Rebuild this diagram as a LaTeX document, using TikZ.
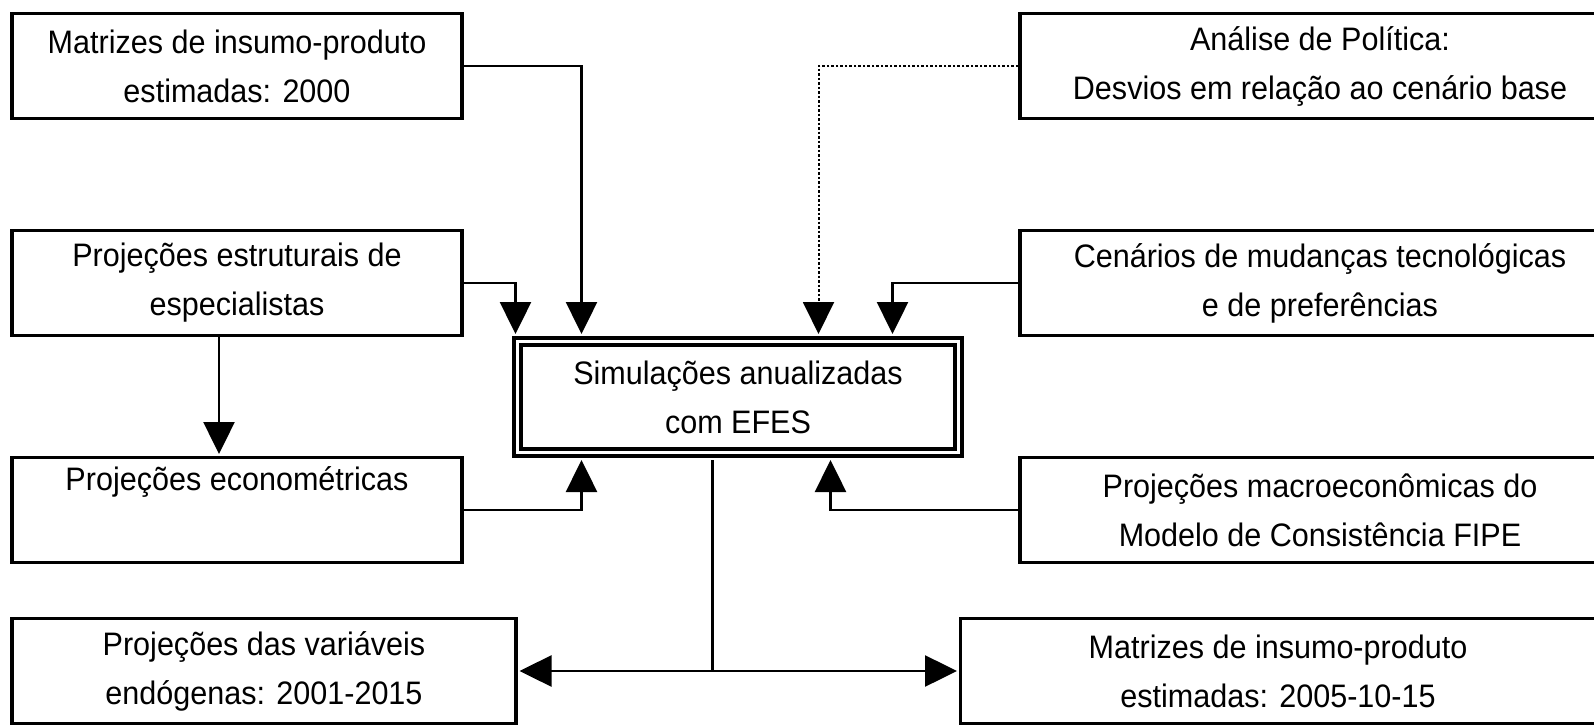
\documentclass[tikz,border=0pt]{standalone}
\usepackage{fontspec}
\setmainfont{Liberation Sans}[FakeStretch=0.94]
\usetikzlibrary{arrows.meta,positioning,calc}

\begin{document}
\begin{tikzpicture}[x=1pt,y=-1pt,
    box/.style={draw,line width=3.5pt,align=center,inner sep=0pt,
      font=\fontsize{32.5pt}{49pt}\selectfont,minimum height=105pt},
    mainbox/.style={box,double,double distance=3pt,line width=4pt,
      minimum width=441pt,minimum height=111pt},
    arr/.style={line width=2.5pt,-{Triangle[width=31pt,length=32pt]},shorten >=1.75pt},
    toefes/.style={arr,shorten >=5.5pt}]
  \useasboundingbox (0,0) rectangle (1594,727);
  \clip (0,0) rectangle (1594,727);

  % caixas
  \node[box,minimum width=450pt] (mat00) at (237,66) {Matrizes de insumo-produto\\estimadas: 2000};
  \node[box,minimum width=600pt] (pol) at (1320,66) {Análise de Política:\\Desvios em relação ao cenário base};
  \node[box,minimum width=450pt] (espec) at (237,283) {Projeções estruturais de\\especialistas};
  \node[box,minimum width=600pt] (cen) at (1320,283) {Cenários de mudanças tecnológicas\\e de preferências};
  \node[mainbox] (efes) at (738,397) {Simulações anualizadas\\com EFES};
  \node[box,minimum width=450pt] (econ) at (237,510) {Projeções econométricas\\\strut};
  \node[box,minimum width=600pt] (macro) at (1320,510) {Projeções macroeconômicas do\\Modelo de Consistência FIPE};
  \node[box,minimum width=504pt] (endog) at (264,671) {Projeções das variáveis\\endógenas: 2001-2015};
  \node[box,minimum width=635pt] (mat05) at (1278,671) {Matrizes de insumo-produto\\estimadas: 2005-10-15};

  % entradas
  \draw[toefes] (mat00.east) -| ([xshift=66pt]efes.north west);
  \draw[toefes] (espec.east) -| (efes.north west);
  \draw[toefes,dotted,line width=2pt] (pol.west) -| ([xshift=303pt]efes.north west);
  \draw[toefes] (cen.west) -| ([xshift=377pt]efes.north west);
  \draw[arr] ([xshift=-18pt]espec.south) -- ([xshift=-18pt]econ.north);
  \draw[toefes] (econ.east) -| ([xshift=66pt]efes.south west);
  \draw[toefes] (macro.west) -| ([xshift=315pt]efes.south west);

  % saidas
  \draw[arr,shorten <=5.5pt] ([xshift=197pt]efes.south west) |- (endog.east);
  \draw[arr,shorten <=5.5pt] ([xshift=197pt]efes.south west) |- (mat05.west);
\end{tikzpicture}
\end{document}
